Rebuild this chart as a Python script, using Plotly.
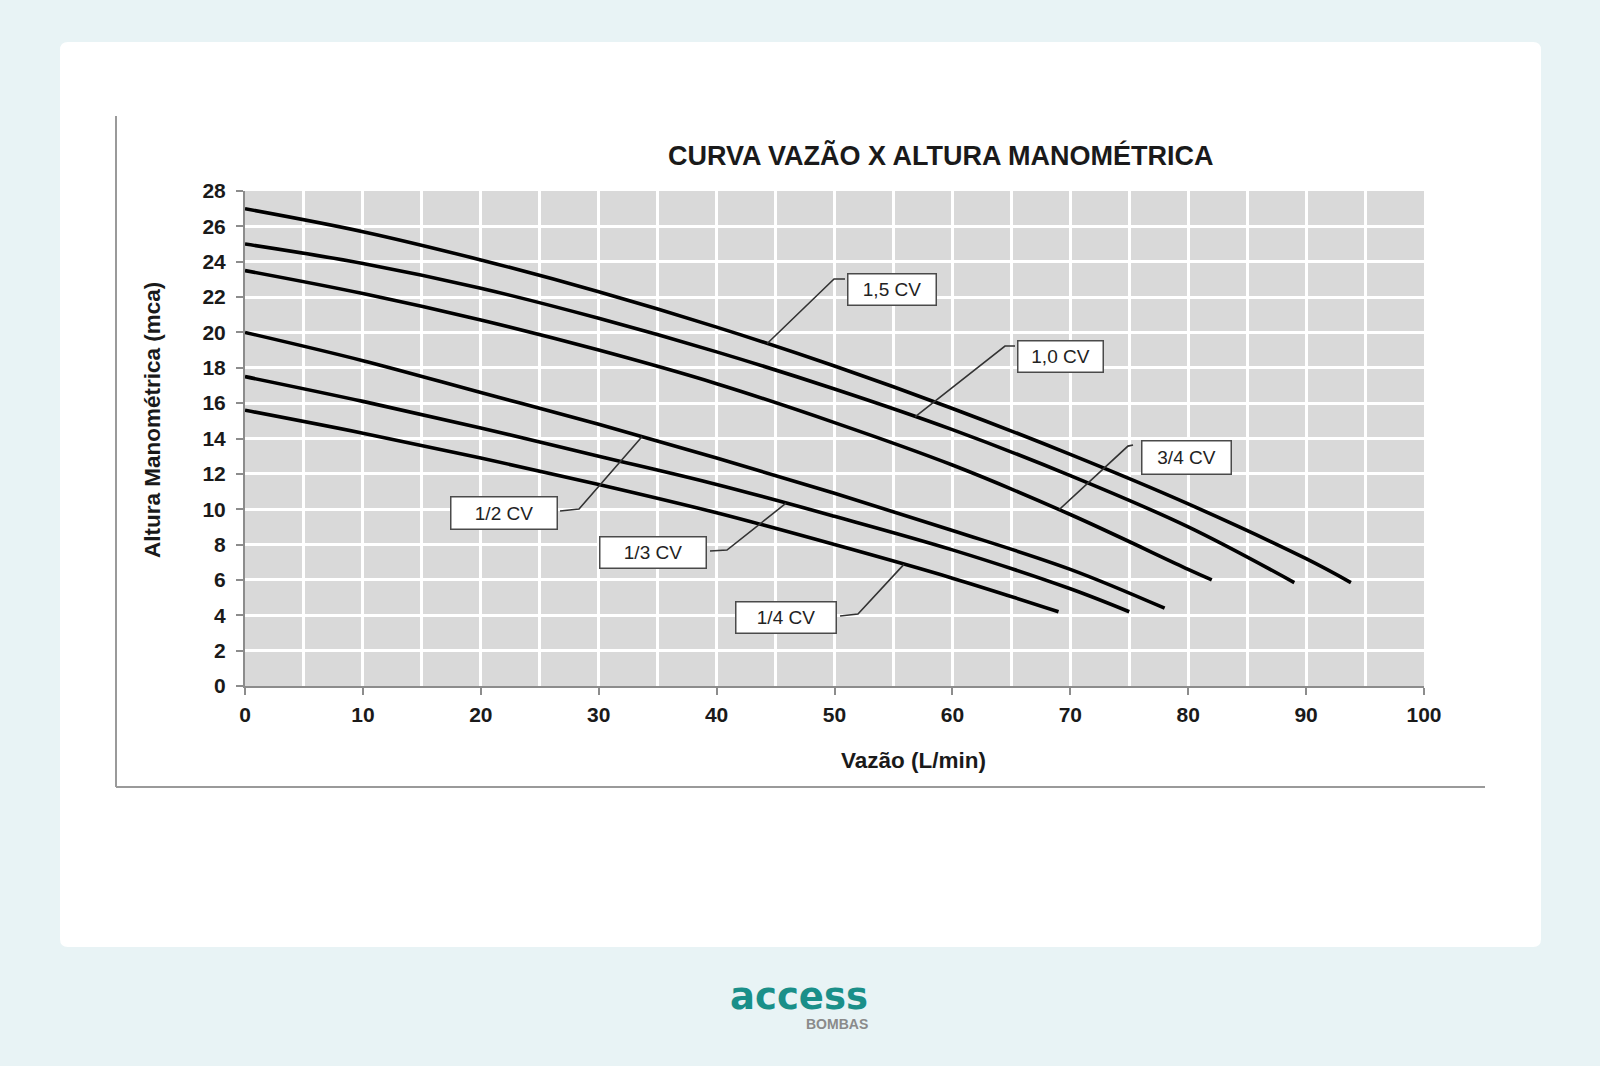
import numpy as np
import plotly.graph_objects as go

# ---------------- data ----------------
series_names = ["1,5 CV", "1,0 CV", "3/4 CV", "1/2 CV", "1/3 CV", "1/4 CV"]

q_15 = [0, 10, 20, 30, 40, 50, 60, 70, 80, 90, 93.8]
h_15 = [27.0, 25.7, 24.1, 22.3, 20.3, 18.1, 15.7, 13.1, 10.3, 7.2, 5.85]

q_10 = [0, 10, 20, 30, 40, 50, 60, 70, 80, 89]
h_10 = [25.0, 23.9, 22.5, 20.8, 18.9, 16.8, 14.5, 11.9, 9.0, 5.85]

q_34 = [0, 10, 20, 30, 40, 50, 60, 70, 80, 82]
h_34 = [23.5, 22.2, 20.7, 19.0, 17.1, 14.9, 12.5, 9.7, 6.6, 6.0]

q_12 = [0, 10, 20, 30, 40, 50, 60, 70, 78]
h_12 = [20.0, 18.4, 16.6, 14.8, 12.9, 10.9, 8.8, 6.6, 4.4]

q_13 = [0, 10, 20, 30, 40, 50, 60, 70, 75]
h_13 = [17.5, 16.1, 14.6, 13.0, 11.4, 9.6, 7.7, 5.5, 4.2]

q_14 = [0, 10, 20, 30, 40, 50, 60, 69]
h_14 = [15.6, 14.3, 12.9, 11.4, 9.8, 8.0, 6.1, 4.2]

x_ticks = [0, 10, 20, 30, 40, 50, 60, 70, 80, 90, 100]
y_ticks = [0, 2, 4, 6, 8, 10, 12, 14, 16, 18, 20, 22, 24, 26, 28]

title_text = "CURVA VAZÃO X ALTURA MANOMÉTRICA"
x_title = "Vazão (L/min)"
y_title = "Altura Manométrica (mca)"

# label layout: (flow where leader meets curve, box centre x, box centre y, hook pts, box w, box h)
label_layout = {
    "1,5 CV": dict(qa=44.27, bx=54.88, by=22.43, hook=[(49.96, 23.02), (50.89, 23.02)], w=90, h=33),
    "1,0 CV": dict(qa=56.83, bx=69.17, by=18.64, hook=[(64.46, 19.23), (65.31, 19.23)], w=87, h=33),
    "3/4 CV": dict(qa=69.04, bx=79.86, by=12.90, hook=[(74.89, 13.57), (75.32, 13.63)], w=91, h=35),
    "1/2 CV": dict(qa=33.67, bx=21.97, by=9.79, hook=[(28.33, 10.01), (26.72, 9.90)], w=108, h=34),
    "1/3 CV": dict(qa=45.89, bx=34.61, by=7.55, hook=[(40.88, 7.69), (39.44, 7.64)], w=108, h=33),
    "1/4 CV": dict(qa=55.89, bx=45.89, by=3.87, hook=[(51.99, 4.07), (50.47, 3.96)], w=102, h=33),
}

curves = {
    "1,5 CV": (q_15, h_15),
    "1,0 CV": (q_10, h_10),
    "3/4 CV": (q_34, h_34),
    "1/2 CV": (q_12, h_12),
    "1/3 CV": (q_13, h_13),
    "1/4 CV": (q_14, h_14),
}

# ---------------- figure ----------------
W, H = 1600, 1066
ML, MR, MT, MB = 245, 176, 191, 380
PW, PH = W - ML - MR, H - MT - MB

def px_x(px):
    return (px - ML) / PW

def px_y(py):
    return (H - MB - py) / PH

FONT = "Liberation Sans, Arial, sans-serif"
fig = go.Figure()

for name in series_names:
    q, h = curves[name]
    fig.add_trace(go.Scatter(
        x=q, y=h, mode="lines", name=name,
        line=dict(color="#000000", width=3.6, shape="spline", smoothing=1.0),
        hoverinfo="x+y+name", showlegend=False,
    ))

shapes = []
# card background (rounded)
x0, x1 = px_x(60), px_x(1541)
y0, y1 = px_y(947), px_y(42)
rx, ry = 8 / PW, 8 / PH
card_path = (f"M {x0+rx},{y0} L {x1-rx},{y0} Q {x1},{y0} {x1},{y0+ry} "
             f"L {x1},{y1-ry} Q {x1},{y1} {x1-rx},{y1} L {x0+rx},{y1} "
             f"Q {x0},{y1} {x0},{y1-ry} L {x0},{y0+ry} Q {x0},{y0} {x0+rx},{y0} Z")
shapes.append(dict(type="path", path=card_path, xref="paper", yref="paper",
                   fillcolor="#FFFFFF", line=dict(width=0), layer="below"))
# plot area background
shapes.append(dict(type="rect", xref="paper", yref="paper", x0=0, x1=1, y0=0, y1=1,
                   fillcolor="#D9D9D9", line=dict(width=0), layer="below"))
# frame lines of embedded image
shapes.append(dict(type="line", xref="paper", yref="paper",
                   x0=px_x(116), x1=px_x(116), y0=px_y(116), y1=px_y(787),
                   line=dict(color="#9A9A9A", width=2), layer="below"))
shapes.append(dict(type="line", xref="paper", yref="paper",
                   x0=px_x(116), x1=px_x(1485), y0=px_y(787), y1=px_y(787),
                   line=dict(color="#9A9A9A", width=2), layer="below"))

annotations = []
for name in series_names:
    q, h = curves[name]
    L = label_layout[name]
    ya = float(np.interp(L["qa"], q, h))
    pts = [(L["qa"], ya)] + L["hook"]
    path = "M " + " L ".join(f"{a},{b}" for a, b in pts)
    shapes.append(dict(type="path", path=path, xref="x", yref="y",
                       line=dict(color="#333333", width=1.6), layer="above"))
    annotations.append(dict(
        x=L["bx"], y=L["by"], xref="x", yref="y", text=name, showarrow=False,
        font=dict(family=FONT, size=19, color="#222222"),
        bgcolor="#FFFFFF", bordercolor="#4A4A4A", borderwidth=1.5, borderpad=2,
        width=L["w"] - 7, height=L["h"] - 7, align="center", valign="middle",
    ))

# title
annotations.append(dict(x=px_x(941), y=px_y(155), xref="paper", yref="paper",
                        text=f"<b>{title_text}</b>", showarrow=False,
                        font=dict(family=FONT, size=27, color="#1A1A1A"),
                        xanchor="center", yanchor="middle"))
# axis titles
annotations.append(dict(x=px_x(913), y=px_y(760), xref="paper", yref="paper",
                        text=f"<b>{x_title}</b>", showarrow=False,
                        font=dict(family=FONT, size=22.5, color="#1A1A1A"),
                        xanchor="center", yanchor="middle"))
annotations.append(dict(x=px_x(152), y=px_y(420), xref="paper", yref="paper",
                        text=f"<b>{y_title}</b>", showarrow=False, textangle=-90,
                        font=dict(family=FONT, size=22.5, color="#1A1A1A"),
                        xanchor="center", yanchor="middle"))
# logo
annotations.append(dict(x=px_x(799), y=px_y(996), xref="paper", yref="paper",
                        text="<b>access</b>", showarrow=False,
                        font=dict(family="DejaVu Sans, sans-serif", size=37, color="#1A8F89"),
                        xanchor="center", yanchor="middle"))
annotations.append(dict(x=px_x(837), y=px_y(1024), xref="paper", yref="paper",
                        text="<b>BOMBAS</b>", showarrow=False,
                        font=dict(family=FONT, size=14, color="#8A8A8A"),
                        xanchor="center", yanchor="middle"))

fig.update_layout(
    width=W, height=H,
    margin=dict(l=ML, r=MR, t=MT, b=MB, pad=0),
    paper_bgcolor="#E8F3F5",
    plot_bgcolor="rgba(0,0,0,0)",
    shapes=shapes,
    annotations=annotations,
    showlegend=False,
    font=dict(family=FONT, color="#1A1A1A"),
)
fig.update_xaxes(
    range=[0, 100], tickvals=x_ticks, ticktext=[str(v) for v in x_ticks],
    showgrid=True, gridcolor="#FFFFFF", gridwidth=3,
    minor=dict(dtick=5, showgrid=True, gridcolor="#FFFFFF", gridwidth=3, ticks=""),
    showline=True, linecolor="#8C8C8C", linewidth=2,
    ticks="outside", ticklen=7, tickwidth=2, tickcolor="#8C8C8C",
    tickfont=dict(family=FONT, size=21, color="#1A1A1A", weight="bold"),
    ticklabelstandoff=2, zeroline=False, fixedrange=True,
)
fig.update_yaxes(
    range=[0, 28], tickvals=y_ticks, ticktext=[str(v) for v in y_ticks],
    showgrid=True, gridcolor="#FFFFFF", gridwidth=3,
    showline=True, linecolor="#8C8C8C", linewidth=2,
    ticks="outside", ticklen=7, tickwidth=2, tickcolor="#8C8C8C",
    tickfont=dict(family=FONT, size=21, color="#1A1A1A", weight="bold"),
    ticklabelstandoff=6, zeroline=False, fixedrange=True,
)

fig.write_html("out.html")
